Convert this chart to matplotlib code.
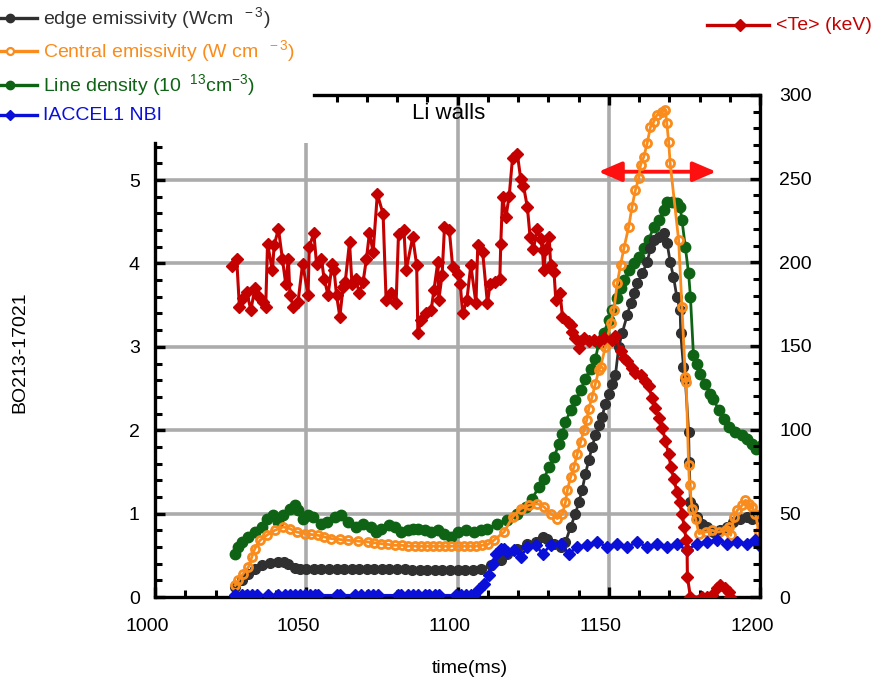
import matplotlib
matplotlib.use("Agg")
import matplotlib.pyplot as plt
from matplotlib.lines import Line2D
from matplotlib.transforms import ScaledTranslation

plt.rcParams['font.family'] = ['Liberation Sans', 'DejaVu Sans']
plt.rcParams['mathtext.fontset'] = 'custom'
plt.rcParams['mathtext.rm'] = 'Liberation Sans'
plt.rcParams['mathtext.default'] = 'regular'

# ---- datos ----
te_time = [1025.4, 1027.0, 1027.9, 1029.2, 1030.3, 1031.7, 1033.0, 1034.4, 1035.6, 1036.6,
           1037.2, 1038.8, 1039.4, 1040.8, 1042.1, 1043.2, 1044.1, 1044.6, 1045.7, 1047.3,
           1048.8, 1050.6, 1051.0, 1052.5, 1053.4, 1055.0, 1055.9, 1057.2, 1058.6, 1059.2,
           1060.0, 1061.1, 1062.2, 1062.9, 1064.3, 1065.1, 1066.3, 1067.6, 1068.8, 1069.9,
           1070.9, 1072.1, 1073.5, 1075.4, 1076.4, 1077.9, 1079.7, 1080.5, 1082.3, 1083.0,
           1085.2, 1086.5, 1086.9, 1088.0, 1089.6, 1091.3, 1092.2, 1093.5, 1093.8, 1094.9,
           1095.7, 1097.3, 1098.4, 1100.1, 1100.9, 1101.7, 1103.1, 1104.4, 1106.1, 1106.7,
           1108.3, 1109.9, 1110.8, 1112.4, 1114.0, 1114.3, 1114.9, 1116.0, 1117.1, 1118.2,
           1119.8, 1120.9, 1121.8, 1123.1, 1124.0, 1125.1, 1126.4, 1127.5, 1128.1, 1128.5,
           1129.2, 1130.3, 1130.8, 1131.9, 1132.5, 1133.9, 1134.7, 1136.4, 1137.4, 1138.0,
           1139.0, 1140.1, 1140.7, 1141.8, 1143.4, 1145.1, 1146.7, 1148.3, 1151.1, 1152.2,
           1153.9, 1155.0, 1156.1, 1157.7, 1158.8, 1160.5, 1162.1, 1163.2, 1164.3, 1165.4,
           1166.6, 1167.7, 1168.7, 1169.8, 1170.6, 1171.5, 1172.6, 1173.5, 1174.2, 1175.0,
           1175.6, 1175.9, 1176.0, 1177.0, 1180.7, 1182.4, 1184.1, 1185.7, 1186.8, 1188.5,
           1189.6, 1190.1]
te_val = [197.7, 202.2, 173.5, 178.4, 182.4, 171.5, 184.4, 179.4, 176.5, 173.5,
          211.1, 195.3, 210.2, 220.0, 202.2, 187.3, 202.2, 180.5, 173.5, 176.5,
          199.2, 180.5, 209.2, 217.5, 199.2, 202.2, 190.3, 180.5, 199.2, 195.3,
          180.5, 167.6, 185.4, 188.4, 212.1, 187.3, 190.3, 181.4, 188.4, 202.2,
          217.6, 206.2, 240.8, 228.9, 177.5, 181.8, 175.5, 217.1, 219.4, 195.3,
          215.1, 198.3, 157.6, 165.6, 169.5, 171.5, 183.4, 200.2, 177.5, 192.3,
          221.0, 219.1, 197.3, 193.3, 187.3, 169.5, 177.5, 198.3, 175.5, 210.2,
          206.2, 175.5, 187.3, 188.4, 190.3, 211.1, 238.9, 227.0, 239.9, 262.6,
          264.6, 249.7, 245.8, 232.9, 215.1, 208.1, 220.0, 214.1, 207.2, 195.3,
          208.1, 215.1, 198.3, 194.3, 177.5, 181.4, 167.6, 164.6, 162.6, 158.6,
          154.7, 148.7, 152.7, 154.7, 152.7, 153.7, 152.7, 154.7, 153.7, 155.7,
          146.8, 142.8, 140.8, 136.8, 133.9, 132.9, 128.9, 126.0, 119.0, 113.1,
          107.1, 101.2, 93.3, 85.4, 77.4, 70.5, 62.6, 56.6, 49.7, 41.8,
          33.9, 27.9, 12.1, 0.0, 0.0, 0.0, 1.2, 5.2, 7.1, 5.2,
          3.1, 0.0]

edge_time = [1026.5, 1028.7, 1030.9, 1033.0, 1035.3, 1038.0, 1040.8, 1042.5, 1044.1, 1046.2,
             1048.0, 1050.0, 1052.5, 1055.0, 1057.5, 1060.0, 1062.5, 1065.0, 1067.5, 1070.0,
             1072.5, 1075.0, 1077.5, 1080.0, 1082.5, 1085.0, 1087.5, 1090.0, 1092.5, 1095.0,
             1097.5, 1100.0, 1102.5, 1105.0, 1107.7, 1111.0, 1114.3, 1116.5, 1119.8, 1123.1,
             1125.9, 1128.1, 1129.7, 1131.9, 1134.1, 1135.7, 1137.4, 1139.0, 1140.1, 1141.2,
             1142.3, 1143.4, 1144.5, 1145.6, 1146.7, 1147.8, 1148.9, 1150.0, 1151.1, 1152.2,
             1153.3, 1154.4, 1156.1, 1157.2, 1158.3, 1159.4, 1161.1, 1162.7, 1163.8, 1164.9,
             1166.6, 1168.2, 1169.3, 1170.3, 1171.4, 1172.5, 1173.6, 1173.8, 1174.7, 1175.3,
             1176.4, 1176.6, 1177.0, 1178.0, 1179.2, 1180.7, 1182.4, 1184.6, 1186.8, 1189.0,
             1191.2, 1193.4, 1195.6, 1197.2, 1198.8]
edge_val = [0.12, 0.20, 0.28, 0.34, 0.38, 0.41, 0.42, 0.42, 0.40, 0.35,
            0.34, 0.34, 0.34, 0.34, 0.34, 0.34, 0.34, 0.34, 0.34, 0.34,
            0.34, 0.34, 0.34, 0.34, 0.33, 0.32, 0.32, 0.32, 0.32, 0.32,
            0.32, 0.32, 0.32, 0.32, 0.34, 0.38, 0.44, 0.52, 0.58, 0.64,
            0.66, 0.72, 0.70, 0.64, 0.60, 0.66, 0.84, 1.00, 1.14, 1.28,
            1.48, 1.64, 1.80, 1.94, 2.06, 2.16, 2.32, 2.44, 2.56, 2.66,
            3.00, 3.16, 3.38, 3.52, 3.64, 3.76, 3.88, 4.02, 4.18, 4.28,
            4.32, 4.36, 4.24, 4.02, 3.84, 3.60, 3.44, 3.16, 2.76, 2.62,
            1.98, 1.62, 1.14, 1.08, 0.96, 0.88, 0.84, 0.78, 0.80, 0.84,
            0.90, 0.94, 0.96, 0.94, 0.96]

central_time = [1026.5, 1027.6, 1029.2, 1030.9, 1032.0, 1033.0, 1034.7, 1036.9, 1039.6, 1042.4,
                1044.6, 1046.8, 1049.5, 1051.5, 1053.9, 1056.0, 1058.3, 1061.0, 1063.8, 1067.0,
                1070.4, 1072.5, 1074.8, 1077.0, 1079.2, 1081.5, 1083.6, 1086.0, 1088.0, 1090.0,
                1092.0, 1094.0, 1096.0, 1098.0, 1100.0, 1102.0, 1104.0, 1106.0, 1108.0, 1110.0,
                1112.0, 1115.4, 1118.2, 1120.9, 1123.7, 1126.4, 1128.6, 1130.8, 1133.0, 1134.7,
                1135.7, 1136.3, 1137.4, 1138.5, 1139.6, 1140.7, 1141.8, 1142.7, 1143.4, 1144.5,
                1145.6, 1146.7, 1147.3, 1148.9, 1150.6, 1151.7, 1152.8, 1153.9, 1155.0, 1156.6,
                1157.7, 1158.8, 1159.9, 1160.5, 1161.6, 1162.7, 1163.8, 1164.9, 1165.9, 1167.6,
                1168.7, 1169.2, 1169.8, 1170.3, 1173.1, 1174.2, 1175.3, 1175.6, 1176.4, 1176.7,
                1177.6, 1178.7, 1179.8, 1182.0, 1184.1, 1186.3, 1188.6, 1189.7, 1190.3, 1191.4,
                1192.5, 1194.1, 1195.2, 1196.3, 1197.4, 1198.5, 1199.6, 1200.5]
central_val = [0.14, 0.20, 0.28, 0.36, 0.48, 0.58, 0.68, 0.74, 0.80, 0.84,
               0.82, 0.78, 0.76, 0.75, 0.74, 0.72, 0.70, 0.69, 0.68, 0.67,
               0.66, 0.65, 0.64, 0.63, 0.62, 0.62, 0.61, 0.61, 0.61, 0.61,
               0.61, 0.61, 0.61, 0.61, 0.61, 0.61, 0.61, 0.61, 0.62, 0.63,
               0.68, 0.78, 0.96, 1.06, 1.10, 1.12, 1.08, 1.00, 0.94, 1.00,
               1.14, 1.28, 1.44, 1.56, 1.72, 1.86, 2.00, 2.12, 2.26, 2.40,
               2.56, 2.72, 2.76, 3.00, 3.28, 3.44, 3.76, 3.98, 4.18, 4.44,
               4.68, 4.88, 5.02, 5.18, 5.28, 5.44, 5.64, 5.70, 5.78, 5.82,
               5.84, 5.68, 5.46, 5.20, 4.28, 3.48, 2.64, 2.58, 1.58, 1.34,
               1.06, 0.94, 0.76, 0.78, 0.80, 0.78, 0.80, 0.84, 0.74, 0.96,
               1.04, 1.10, 1.16, 1.12, 1.08, 1.00, 0.78, 0.62]

density_time = [1026.5, 1027.6, 1028.7, 1030.9, 1033.0, 1035.3, 1036.9, 1039.1, 1040.8, 1042.4,
                1044.6, 1046.2, 1047.3, 1049.0, 1050.6, 1052.3, 1055.0, 1056.7, 1059.4, 1061.6,
                1063.8, 1066.6, 1068.8, 1071.5, 1073.1, 1074.8, 1077.5, 1079.2, 1081.4, 1083.6,
                1085.2, 1086.9, 1089.1, 1091.3, 1093.5, 1095.7, 1097.9, 1100.1, 1102.8, 1105.5,
                1107.7, 1109.9, 1113.2, 1116.5, 1119.8, 1122.6, 1124.7, 1126.9, 1128.6, 1130.3,
                1131.9, 1133.6, 1134.7, 1135.7, 1137.4, 1139.0, 1140.7, 1142.3, 1144.0, 1145.6,
                1146.7, 1148.3, 1150.0, 1151.1, 1152.8, 1153.9, 1155.0, 1156.6, 1158.3, 1159.9,
                1161.6, 1163.2, 1164.9, 1166.6, 1168.2, 1169.3, 1170.9, 1172.5, 1173.6, 1174.2,
                1175.3, 1176.4, 1177.0, 1178.0, 1179.2, 1180.3, 1181.9, 1183.6, 1184.6, 1186.3,
                1188.0, 1189.6, 1191.8, 1194.0, 1195.6, 1197.2, 1198.8, 1200.5]
density_val = [0.52, 0.60, 0.66, 0.72, 0.78, 0.84, 0.94, 0.98, 0.90, 0.98,
               1.06, 1.10, 1.04, 0.94, 0.98, 0.96, 0.88, 0.90, 0.96, 0.98,
               0.90, 0.84, 0.88, 0.84, 0.78, 0.82, 0.86, 0.84, 0.78, 0.80,
               0.81, 0.82, 0.80, 0.78, 0.80, 0.76, 0.72, 0.78, 0.80, 0.78,
               0.80, 0.82, 0.88, 0.92, 1.00, 1.08, 1.18, 1.32, 1.42, 1.56,
               1.68, 1.84, 1.96, 2.10, 2.24, 2.36, 2.48, 2.62, 2.74, 2.86,
               3.04, 3.16, 3.32, 3.44, 3.58, 3.70, 3.80, 3.92, 4.00, 4.08,
               4.18, 4.28, 4.44, 4.52, 4.64, 4.74, 4.74, 4.72, 4.68, 4.52,
               4.20, 3.88, 3.60, 2.90, 2.80, 2.68, 2.56, 2.44, 2.38, 2.24,
               2.14, 2.04, 1.98, 1.94, 1.90, 1.84, 1.78, 1.82]

nbi_time = [1026.5, 1028.7, 1030.3, 1032.0, 1033.6, 1037.5, 1040.8, 1042.9, 1044.6, 1046.2,
            1047.9, 1049.5, 1051.2, 1052.8, 1053.9, 1060.0, 1061.1, 1066.0, 1068.2, 1070.4,
            1072.1, 1073.7, 1080.3, 1081.4, 1083.6, 1085.2, 1086.9, 1089.1, 1090.7, 1092.4,
            1094.0, 1099.5, 1101.2, 1102.8, 1104.4, 1105.5, 1107.2, 1108.8, 1110.5, 1111.6,
            1112.7, 1114.3, 1115.4, 1116.5, 1118.7, 1120.9, 1123.1, 1125.9, 1128.1, 1130.8,
            1134.1, 1136.8, 1139.6, 1142.9, 1146.2, 1149.5, 1152.8, 1156.1, 1159.4, 1162.7,
            1165.9, 1169.3, 1172.5, 1175.8, 1179.1, 1182.4, 1185.7, 1189.0, 1192.3, 1195.6,
            1198.4, 1199.6]
nbi_val = [0.02, 0.02, 0.02, 0.02, 0.02, 0.02, 0.02, 0.02, 0.02, 0.02,
           0.02, 0.02, 0.02, 0.02, 0.02, 0.02, 0.02, 0.02, 0.02, 0.02,
           0.02, 0.02, 0.02, 0.02, 0.02, 0.02, 0.02, 0.02, 0.02, 0.02,
           0.02, 0.02, 0.02, 0.02, 0.02, 0.02, 0.10, 0.16, 0.26, 0.40,
           0.52, 0.58, 0.58, 0.54, 0.56, 0.48, 0.60, 0.62, 0.52, 0.62,
           0.64, 0.52, 0.60, 0.62, 0.66, 0.60, 0.64, 0.60, 0.66, 0.60,
           0.64, 0.60, 0.64, 0.56, 0.64, 0.66, 0.68, 0.64, 0.66, 0.64,
           0.68, 0.62]

x_ticks = [1000, 1050, 1100, 1150, 1200]
left_ticks = [0, 1, 2, 3, 4, 5]
right_ticks = [0, 50, 100, 150, 200, 250, 300]

c_black = '#303030'
c_orange = '#f98c1c'
c_green = '#0e6414'
c_blue = '#0a10d8'
c_red = '#c40000'
FS = 14

W, H = 876, 686
fig = plt.figure(figsize=(W / 100, H / 100), dpi=100)
ax = fig.add_axes([155 / W, 1 - 597 / H, 605 / W, 502 / H])
ax.set_xlim(1000, 1200)
ax.set_ylim(0, 6.02)

# rejilla gris
grid_kw = dict(color='#ababab', lw=2.6, zorder=0.5)
for yv in [1, 2, 3, 4, 5]:
    ax.axhline(yv, **grid_kw)
ax.vlines(1050, 0, 5.45, **grid_kw)
ax.vlines([1100, 1150], 0, 6.02, **grid_kw)

mk = dict(lw=2)
ax.plot(density_time, density_val, color=c_green, marker='o', ms=7.5, mec=c_green, zorder=2, **mk)
ax.plot(edge_time, edge_val, color=c_black, marker='o', ms=7, mec=c_black, zorder=3, **mk)
ax.plot(central_time, central_val, color=c_orange, marker='o', ms=5.8, mfc='none',
        mec=c_orange, mew=2, zorder=4, **mk)
ax.plot(nbi_time, nbi_val, color=c_blue, marker='D', ms=6, mec=c_blue, zorder=5, **mk)

ax.annotate('', xy=(1185.5, 5.1), xytext=(1146.6, 5.1),
            arrowprops=dict(arrowstyle='<|-|>,head_length=0.7,head_width=0.3',
                            color='#ff1010', lw=2.8, mutation_scale=20, shrinkA=0, shrinkB=0))
ax.text(1097, 5.8, 'Li walls', fontsize=16, ha='center', va='center')

# ejes
ax.spines['right'].set_visible(False)
ax.spines['left'].set_bounds(0, 5.45)
ax.spines['top'].set_bounds(1052.5, 1200)
for s in ['left', 'top', 'bottom']:
    ax.spines[s].set_linewidth(2.4)
ax.set_xticks(x_ticks)
ax.set_xticks(range(1010, 1200, 10), minor=True)
ax.set_yticks(left_ticks)
ax.set_yticks([i * 0.2 for i in range(28)], minor=True)
ax.tick_params(which='both', direction='in', top=False, right=False, labelsize=FS)
ax.tick_params(which='major', length=7, width=2.4)
ax.tick_params(which='minor', length=5, width=2.2)
ax.tick_params(axis='x', which='major', pad=15)
ax.tick_params(axis='y', which='major', pad=11)
# las etiquetas del eje x van un poco corridas a la izquierda
shift = ScaledTranslation(-8 / 100, 0, fig.dpi_scale_trans)
for lab in ax.get_xticklabels():
    lab.set_transform(lab.get_transform() + shift)

ax.set_xlabel('time(ms)', fontsize=FS, labelpad=12)
ax.xaxis.set_label_coords(0.52, -0.125)
ax.set_ylabel('BO213-17021', fontsize=FS)
ax.yaxis.set_label_coords(-0.21, 0.488)

# eje superior
axt = ax.twiny()
axt.set_xlim(1000, 1200)
axt.set_xticks([1100, 1150, 1200])
axt.set_xticks(range(1060, 1200, 10), minor=True)
axt.tick_params(which='both', direction='in', labeltop=False)
axt.tick_params(which='major', length=7, width=2.4)
axt.tick_params(which='minor', length=5, width=2.2)
for s in axt.spines.values():
    s.set_visible(False)

# eje derecho (Te)
ax2 = ax.twinx()
ax2.set_ylim(0, 300)
ax2.plot(te_time, te_val, color=c_red, marker='D', ms=6.5, mec=c_red, lw=2.2)
for s in ['left', 'top', 'bottom']:
    ax2.spines[s].set_visible(False)
ax2.spines['right'].set_linewidth(2.4)
ax2.set_yticks(right_ticks)
ax2.set_yticks(range(10, 300, 10), minor=True)
ax2.tick_params(which='both', direction='in', labelsize=FS)
ax2.tick_params(which='major', length=7, width=2.4, pad=14)
ax2.tick_params(which='minor', length=5, width=2.2)

# leyendas
def legend_entry(y, color, text, marker, x0=0, x1=37, xm=10, xt=43, **mkw):
    yf = 1 - y / H
    fig.add_artist(Line2D([x0 / W, x1 / W], [yf, yf], color=color, lw=2.4,
                          transform=fig.transFigure))
    fig.add_artist(Line2D([xm / W], [yf], color=color, marker=marker,
                          transform=fig.transFigure, **mkw))
    fig.text(xt / W, yf, text, color=color, fontsize=FS, va='center', ha='left')

legend_entry(18, c_black, 'edge emissivity (Wcm$^{\\ \\ -3}$)', 'o', ms=6, mec=c_black)
legend_entry(51, c_orange, 'Central emissivity (W cm$^{\\ \\ -3}$)', 'o', ms=5,
             mfc='white', mec=c_orange, mew=1.6)
legend_entry(85, c_green, 'Line density (10$^{\\ \\ 13}$cm$^{-3}$)', 'o', ms=6, mec=c_green)
legend_entry(115, c_blue, 'IACCEL1 NBI', 'D', ms=5, mec=c_blue)
legend_entry(25, c_red, '<Te> (keV)', 'D', x0=707, x1=769, xm=740, xt=776, ms=6, mec=c_red)

fig.savefig('out.png', dpi=100)
